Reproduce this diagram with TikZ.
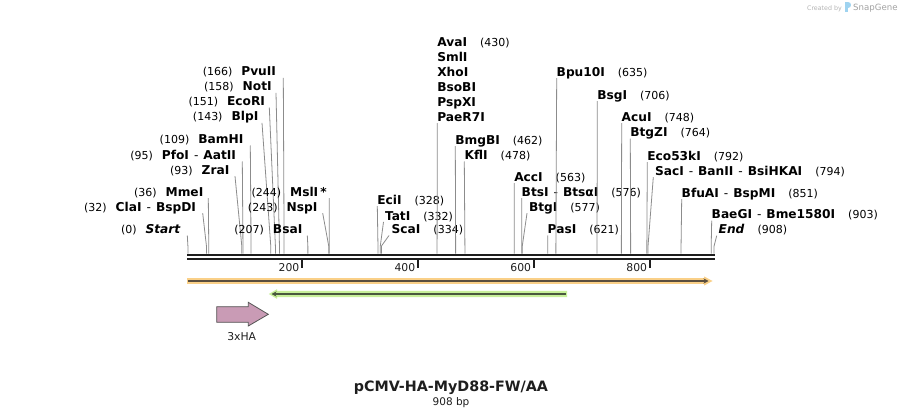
\documentclass[tikz,border=0pt]{standalone}
\usepackage{fontspec}
\setmainfont{DejaVu Sans}
\usetikzlibrary{arrows.meta}
\definecolor{cutgray}{HTML}{8C8C8C}
\definecolor{bbcol}{HTML}{1E1E1E}
\definecolor{orband}{HTML}{FAD088}
\definecolor{orline}{HTML}{5A4E3E}
\definecolor{grband}{HTML}{C8F09A}
\definecolor{grline}{HTML}{4A583E}
\definecolor{pinkfill}{HTML}{C99BB5}
\definecolor{pinkdraw}{HTML}{555555}
\definecolor{logogray}{HTML}{B4B4B4}
\definecolor{logoblue}{HTML}{9FD3F0}
\newcommand\numx[1]{{\mdseries\fontsize{11}{12}\selectfont #1}}
\newcommand\nm[1]{\textbf{#1}}
\newcommand\sepx{\hspace{5pt}{\mdseries -}\hspace{5pt}}
\newcommand\CutL[6]{%
  \node[lbl, anchor=base east] (#1) at (#2, #3+4.3) {#6};
  \pgfmathsetmacro\sitex{187.9+0.5795*#5}
  \coordinate (#1-t) at (#4, #3+6.2);
  \coordinate (#1-b) at (\sitex, 246);
  \coordinate (#1-s) at (\sitex, 253.6);
  \draw[cut] (#1-t) -- (#1-b) -- (#1-s);
}
\newcommand\CutR[6]{%
  \node[lbl, anchor=base west] (#1) at (#2, #3+4.3) {#6};
  \pgfmathsetmacro\sitex{187.9+0.5795*#5}
  \coordinate (#1-t) at (#4, #3+6.2);
  \coordinate (#1-b) at (\sitex, 246);
  \coordinate (#1-s) at (\sitex, 253.6);
  \draw[cut] (#1-t) -- (#1-b) -- (#1-s);
}
\begin{document}
\begin{tikzpicture}[x=1pt,y=-1pt,
  lbl/.style={inner sep=0pt, outer sep=0pt, font=\fontsize{12.2}{13}\selectfont},
  cut/.style={draw=cutgray, line width=0.8pt},
  bb/.style={draw=bbcol, line width=2.3pt},
  tick/.style={draw=bbcol, line width=1.6pt},
  ticklbl/.style={inner sep=0pt, font=\fontsize{10.8}{12}\selectfont, text=bbcol}]
\useasboundingbox[fill=white] (0,0) rectangle (903,417);

% logo
\node[anchor=base east, inner sep=0pt, text=logogray, font=\fontsize{6.3}{7}\selectfont] (createdby) at (842,10.2) {Created by};
\fill[logoblue] (845.2,2.5) rectangle (847.6,12.5);
\fill[logoblue] (847.6,2.5) .. controls (852,2.5) and (852,8.5) .. (847.6,8.5) -- cycle;
\node[anchor=base west, inner sep=0pt, text=logogray!90!black, font=\fontsize{8.6}{9}\selectfont] (snapgene) at (853,10.8) {SnapGene};

% backbone
\draw[bb] (187,254.8) -- (715,254.8);
\draw[bb] (187,258.9) -- (715,258.9);

% ticks
\foreach \bp/\nmtick in {200/t2,400/t4,600/t6,800/t8}{
  \pgfmathsetmacro\tx{186.1+0.5795*\bp}
  \draw[tick] (\tx,260) -- (\tx,268);
  \node[ticklbl, anchor=base east] (\nmtick) at (\tx-2.5,271.3) {\bp};
}

% left-hand cut labels
\CutL{start}{180.7}{229.3}{187.3}{0}{\numx{(0)}\hspace{9pt}\textbf{\textit{Start}}}
\CutL{cla}{196}{207}{202.7}{32}{\numx{(32)}\hspace{9pt}\nm{ClaI}\sepx\nm{BspDI}}
\CutL{mme}{203.3}{192}{208.3}{36}{\numx{(36)}\hspace{9pt}\nm{MmeI}}
\CutL{zra}{229.3}{170}{235}{93}{\numx{(93)}\hspace{9pt}\nm{ZraI}}
\CutL{pfo}{236}{155.3}{242.3}{95}{\numx{(95)}\hspace{9pt}\nm{PfoI}\sepx\nm{AatII}}
\CutL{bam}{243.3}{139.3}{250.3}{109}{\numx{(109)}\hspace{9pt}\nm{BamHI}}
\CutL{blp}{258.3}{116.7}{262}{143}{\numx{(143)}\hspace{9pt}\nm{BlpI}}
\CutL{ecor}{265}{101.3}{269.3}{151}{\numx{(151)}\hspace{9pt}\nm{EcoRI}}
\CutL{noti}{271.7}{86.7}{276}{158}{\numx{(158)}\hspace{9pt}\nm{NotI}}
\CutL{pvu}{276}{71.7}{283.3}{166}{\numx{(166)}\hspace{9pt}\nm{PvuII}}
\CutL{bsa}{302.3}{229.3}{307.3}{207}{\numx{(207)}\hspace{9pt}\nm{BsaI}}
\CutL{nsp}{317.3}{207}{322.7}{243}{\numx{(243)}\hspace{9pt}\nm{NspI}}
\CutL{msl}{326.7}{192}{329.3}{244}{\numx{(244)}\hspace{9pt}\nm{MslI\,*}}

% right-hand cut labels
\CutR{eci}{377.3}{200}{377.3}{328}{\nm{EciI}\hspace{13pt}\numx{(328)}}
\CutR{tat}{385}{215.7}{383.5}{332}{\nm{TatI}\hspace{13pt}\numx{(332)}}
\CutR{sca}{391.7}{229.3}{389}{334}{\nm{ScaI}\hspace{13pt}\numx{(334)}}
\node[lbl, anchor=base west] (ava) at (437.3,42.5+4.3) {\nm{AvaI}\hspace{13pt}\numx{(430)}};
\node[lbl, anchor=base west] (sml) at (437.3,57.4+4.3) {\nm{SmlI}};
\node[lbl, anchor=base west] (xho) at (437.3,72.3+4.3) {\nm{XhoI}};
\node[lbl, anchor=base west] (bso) at (437.3,87.2+4.3) {\nm{BsoBI}};
\node[lbl, anchor=base west] (psp) at (437.3,102.1+4.3) {\nm{PspXI}};
\CutR{pae}{437.3}{117}{437.3}{430}{\nm{PaeR7I}}
\CutR{bmg}{455.3}{140}{455.3}{462}{\nm{BmgBI}\hspace{13pt}\numx{(462)}}
\CutR{kfl}{464.7}{155.3}{464.3}{478}{\nm{KflI}\hspace{13pt}\numx{(478)}}
\CutR{acc}{514.3}{177}{514.3}{563}{\nm{AccI}\hspace{13pt}\numx{(563)}}
\CutR{bts}{521.7}{192}{521.7}{576}{\nm{BtsI}\sepx\nm{BtsαI}\hspace{13pt}\numx{(576)}}
\CutR{btg}{529}{207}{527}{577}{\nm{BtgI}\hspace{13pt}\numx{(577)}}
\CutR{pas}{547.7}{229.3}{547.7}{621}{\nm{PasI}\hspace{13pt}\numx{(621)}}
\CutR{bpu}{556.7}{72}{556.7}{635}{\nm{Bpu10I}\hspace{13pt}\numx{(635)}}
\CutR{bsg}{597.3}{95}{597.3}{706}{\nm{BsgI}\hspace{13pt}\numx{(706)}}
\CutR{acu}{621.7}{117}{621.7}{748}{\nm{AcuI}\hspace{13pt}\numx{(748)}}
\CutR{btz}{630.3}{132.5}{630.3}{764}{\nm{BtgZI}\hspace{13pt}\numx{(764)}}
\CutR{ecok}{647.3}{156}{647.3}{792}{\nm{Eco53kI}\hspace{13pt}\numx{(792)}}
\CutR{sac}{655}{171}{653.3}{794}{\nm{SacI}\sepx\nm{BanII}\sepx\nm{BsiHKAI}\hspace{13pt}\numx{(794)}}
\CutR{bfu}{681.7}{193}{681.7}{851}{\nm{BfuAI}\sepx\nm{BspMI}\hspace{13pt}\numx{(851)}}
\CutR{bae}{711.7}{214.5}{711.7}{903}{\nm{BaeGI}\sepx\nm{Bme1580I}\hspace{13pt}\numx{(903)}}
\CutR{endl}{718.7}{229.5}{716.7}{908}{\textbf{\textit{End}}\hspace{13pt}\numx{(908)}}

% features
\fill[orband] (187,278.2) -- (704,278.2) -- (704,276.4) -- (712.5,281) -- (704,285.6) -- (704,283.8) -- (187,283.8) -- cycle;
\coordinate (orA) at (188,281);
\coordinate (orB) at (708.5,281);
\draw[orline, line width=1.8pt, -{Stealth[length=5pt,width=5pt]}] (orA) -- (orB);

\fill[grband] (567,290.9) -- (277,290.9) -- (277,289.2) -- (268.8,294) -- (277,298.8) -- (277,297.1) -- (567,297.1) -- cycle;
\coordinate (grA) at (565.5,294);
\coordinate (grB) at (271.5,294);
\draw[grline, line width=1.8pt, -{Stealth[length=5pt,width=5pt]}] (grA) -- (grB);

\draw[fill=pinkfill, draw=pinkdraw, line width=0.8pt] (216.7,306.7) -- (248.3,306.7) -- (248.3,302.3) -- (268.3,314.3) -- (248.3,326) -- (248.3,322.3) -- (216.7,322.3) -- cycle;
\node[inner sep=0pt, anchor=base, font=\fontsize{10.8}{12}\selectfont, text=bbcol] (ha) at (241.7,340.5) {3xHA};

% title
\node[inner sep=0pt, anchor=base, font=\fontsize{14.3}{16}\selectfont\bfseries, text=bbcol] (title) at (451,391) {pCMV-HA-MyD88-FW/AA};
\node[inner sep=0pt, anchor=base, font=\fontsize{10.5}{12}\selectfont, text=bbcol] (size) at (451,405) {908 bp};
\end{tikzpicture}
\end{document}
